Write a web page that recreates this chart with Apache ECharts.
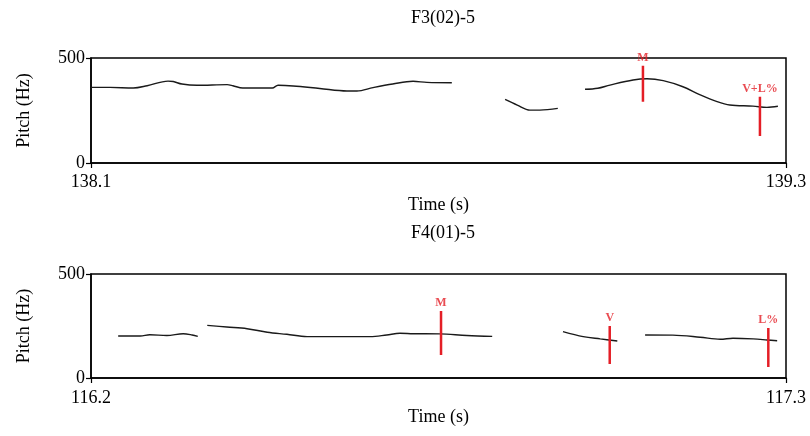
<!DOCTYPE html>
<html>
<head>
<meta charset="utf-8">
<script src="https://cdn.jsdelivr.net/npm/echarts@6/dist/echarts.min.js"></script>
<style>
  html, body { margin: 0; padding: 0; background: #fff; }
  #chart { width: 810px; height: 436px; }
</style>
</head>
<body>
<div id="chart"></div>
<script>
// panel titles and axis ranges
const panelTitles = ['F3(02)-5', 'F4(01)-5'];
const timeRanges = [[138.1, 139.3], [116.2, 117.3]];

// F3(02)-5 pitch track, split into voiced stretches
const f3Times = [
  [138.1, 138.133, 138.173, 138.197, 138.233, 138.242, 138.257, 138.283, 138.335, 138.345, 138.362,
   138.413, 138.423, 138.449, 138.495, 138.542, 138.559, 138.587, 138.621, 138.656, 138.680, 138.723],
  [138.815, 138.836, 138.858, 138.875, 138.906],
  [138.953, 138.975, 138.996, 139.036, 139.060, 139.088, 139.122, 139.152, 139.181, 139.203, 139.243, 139.267, 139.286]
];
const f3Pitch = [
  [360, 360, 357, 368, 390, 388, 376, 370, 373, 368, 357, 357, 370, 367, 355, 343, 343, 359, 376, 389, 384, 382],
  [303, 276, 252, 252, 260],
  [351, 356, 371, 395, 401, 392, 363, 324, 292, 276, 271, 265, 270]
];
const f3MarkLabels = ['M', 'V+L%'];
const f3MarkTimes = [139.053, 139.255];
const f3MarkLow = [292, 129];
const f3MarkHigh = [463, 316];

// F4(01)-5 pitch track
const f4Times = [
  [116.243, 116.278, 116.293, 116.320, 116.346, 116.360, 116.369],
  [116.384, 116.415, 116.447, 116.479, 116.510, 116.542, 116.583, 116.642, 116.668, 116.689, 116.710, 116.752, 116.795, 116.835],
  [116.947, 116.979, 117.006, 117.033],
  [117.077, 117.121, 117.164, 117.196, 117.216, 117.248, 117.270, 117.286]
];
const f4Pitch = [
  [202, 202, 208, 204, 213, 207, 200],
  [253, 245, 237, 220, 210, 199, 199, 199, 207, 215, 213, 212, 204, 200],
  [223, 199, 188, 178],
  [207, 206, 196, 186, 191, 188, 183, 179]
];
const f4MarkLabels = ['M', 'V', 'L%'];
const f4MarkTimes = [116.754, 117.021, 117.272];
const f4MarkLow = [111, 67, 53];
const f4MarkHigh = [322, 250, 240];

const FONT = 'Liberation Serif';
const RED = '#e41e26';
const gridTops = [58, 274];
const gridHeights = [105, 104];
const titleTops = [4, 219];
const xNameGaps = [33, 23];
const xLabelMargins = [10, 11];

const panels = [
  { times: f3Times, pitch: f3Pitch, labels: f3MarkLabels, mt: f3MarkTimes, lo: f3MarkLow, hi: f3MarkHigh },
  { times: f4Times, pitch: f4Pitch, labels: f4MarkLabels, mt: f4MarkTimes, lo: f4MarkLow, hi: f4MarkHigh }
];

const grid = [], xAxis = [], yAxis = [], series = [], title = [];

panels.forEach((p, i) => {
  grid.push({
    left: 91, right: 24, top: gridTops[i], height: gridHeights[i],
    show: true, borderColor: '#000', borderWidth: 1.5
  });
  title.push({
    text: panelTitles[i], left: 438, top: titleTops[i], textAlign: 'center',
    textStyle: { fontFamily: FONT, fontSize: 18, fontWeight: 'normal', color: '#000' }
  });
  const ends = timeRanges[i];
  xAxis.push({
    type: 'value', gridIndex: i, min: ends[0], max: ends[1],
    name: 'Time (s)', nameLocation: 'middle', nameGap: xNameGaps[i],
    nameTextStyle: { fontFamily: FONT, fontSize: 18, color: '#000' },
    axisLine: { lineStyle: { color: '#000', width: 1.5 } },
    axisTick: { show: true, length: 5, customValues: ends, lineStyle: { color: '#000', width: 1.2 } },
    axisLabel: {
      customValues: ends, margin: xLabelMargins[i],
      fontFamily: FONT, fontSize: 18, color: '#000',
      formatter: v => v.toFixed(1)
    },
    splitLine: { show: false }
  });
  yAxis.push({
    type: 'value', gridIndex: i, min: 0, max: 500, interval: 500,
    name: 'Pitch (Hz)', nameLocation: 'middle', nameGap: 58,
    nameTextStyle: { fontFamily: FONT, fontSize: 18, color: '#000' },
    axisLine: { show: true, lineStyle: { color: '#000', width: 1.5 } },
    axisTick: { show: true, length: 5, lineStyle: { color: '#000', width: 1.2 } },
    axisLabel: { margin: 6, fontFamily: FONT, fontSize: 18, color: '#000' },
    splitLine: { show: false }
  });

  p.times.forEach((ts, k) => {
    series.push({
      type: 'line', xAxisIndex: i, yAxisIndex: i, showSymbol: false, smooth: 0.35,
      lineStyle: { color: '#1a1a1a', width: 1.4 },
      data: ts.map((t, j) => [t, p.pitch[k][j]]),
      silent: true, animation: false
    });
  });

  p.mt.forEach((t, k) => {
    series.push({
      type: 'line', xAxisIndex: i, yAxisIndex: i, showSymbol: false,
      lineStyle: { color: RED, width: 2.5 },
      data: [[t, p.lo[k]], [t, p.hi[k]]],
      silent: true, animation: false, z: 5
    });
  });

  series.push({
    type: 'scatter', xAxisIndex: i, yAxisIndex: i, symbolSize: 0,
    data: p.mt.map((t, k) => ({ name: p.labels[k], value: [t, p.hi[k]] })),
    label: {
      show: true, position: 'top', distance: 2, formatter: '{b}',
      fontFamily: FONT, fontSize: 12, fontWeight: 'bold', color: RED
    },
    silent: true, animation: false, z: 6
  });
});

const chart = echarts.init(document.getElementById('chart'));
chart.setOption({ animation: false, title, grid, xAxis, yAxis, series });
</script>
</body>
</html>
